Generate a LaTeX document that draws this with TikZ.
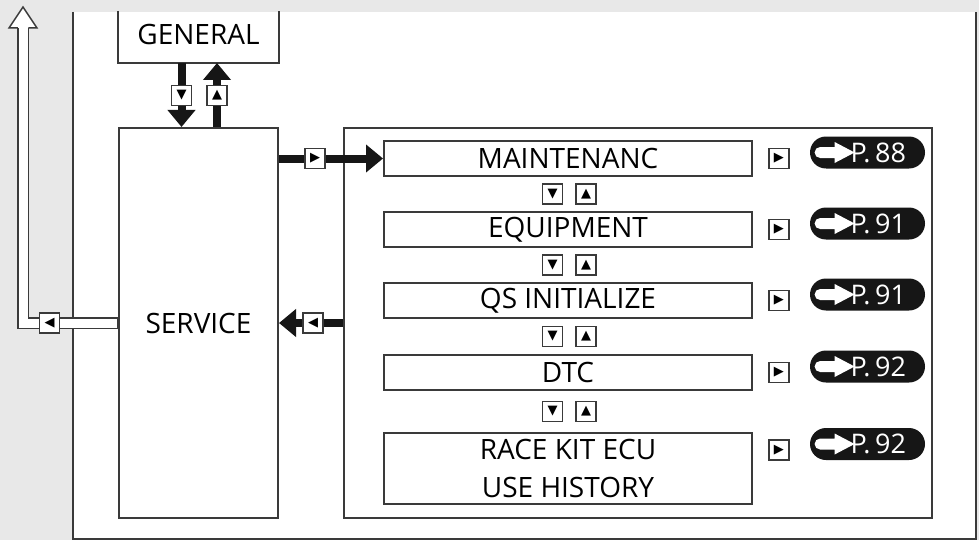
\documentclass[tikz,border=0pt]{standalone}
\usepackage{fontspec}
\setmainfont{Open Sans}
\newfontfamily\symfont{DejaVu Sans}
\usepackage{tikz}
\usetikzlibrary{positioning,arrows.meta,calc}
\definecolor{pagegrey}{HTML}{E8E8E8}
\definecolor{framegrey}{HTML}{3A3A3A}
\definecolor{inkblack}{HTML}{161616}
\tikzset{
    menubox/.style={
        draw=framegrey, fill=white, line width=1pt,
        minimum width=184pt, minimum height=17.5pt,
        inner sep=0pt, font=\fontsize{14}{19}\selectfont, align=center
    },
    bigbox/.style={
        draw=framegrey, fill=white, line width=1pt,
        minimum width=79.5pt, inner sep=0pt,
        font=\fontsize{14}{19}\selectfont
    },
    keyicon/.style={
        draw=framegrey, fill=white, line width=0.8pt,
        minimum size=10pt, inner sep=0pt,
        font=\symfont\fontsize{6.5}{6.5}\selectfont
    },
    pagebadge/.style={
        fill=inkblack, rounded corners=8pt, text=white,
        minimum height=16pt, text width=38.5pt, inner xsep=9.5pt, inner ysep=0pt,
        align=right, font=\fontsize{13.5}{13.5}\selectfont,
        text height=9.6pt, text depth=0pt
    },
    keyarrow/.style={-{Triangle[length=8.5pt,width=13.5pt]}, line width=4pt, color=inkblack},
}

\begin{document}
\begin{tikzpicture}[x=0.5pt, y=-0.5pt]
    % page and panel
    \fill[pagegrey] (0,0) rectangle (979,540);
    \fill[white] (73,12) rectangle (976,539);
    \draw[framegrey, line width=0.8pt] (73,12) -- (73,539) -- (976,539) -- (976,12);

    % main menu
    \node[bigbox, draw=none, fill=none, minimum height=25pt, text height=9.6pt, text depth=1.6pt] (general) at (198.5,37) {GENERAL};
    \draw[framegrey, line width=1pt] (general.north west) -- (general.south west) -- (general.south east) -- (general.north east);
    \node[bigbox, minimum height=195pt] (service) at (198.5,323) {SERVICE};
    \node[draw=framegrey, fill=white, line width=1pt, minimum width=294pt, minimum height=195pt] (submenu) at (638,323) {};

    % service menu items
    \node[menubox] (m1) at (568,158.5) {MAINTENANC};
    \node[menubox, below=17pt of m1] (m2) {EQUIPMENT};
    \node[menubox, below=17pt of m2] (m3) {QS INITIALIZE};
    \node[menubox, below=17.5pt of m3] (m4) {DTC};
    \node[menubox, below=20.5pt of m4, minimum height=35.5pt] (m5) {RACE KIT ECU\\USE HISTORY};

    % arrows
    \draw[keyarrow] ([xshift=-8.5pt]general.south) -- ([xshift=-8.5pt]service.north);
    \draw[keyarrow] ([xshift=9.25pt]service.north) -- ([xshift=9.25pt]general.south);
    \draw[keyarrow] (m1.west -| service.east) -- (m1.west);
    \draw[keyarrow] (submenu.west) -- (service.east);

    % way out (hollow arrow)
    \coordinate (exit) at (23,7);
    \draw[framegrey, line width=6pt] (service.west) -| ($(exit)+(0,21)$);
    \draw[white, line width=4.5pt, shorten <=0.5pt] (service.west) -| ($(exit)+(0,21)$);
    \fill[white] ($(exit)+(-14,21)$) -- (exit) -- ($(exit)+(14,21)$) -- cycle;
    \draw[framegrey, line width=0.75pt] ($(exit)+(-5.25,21)$) -- ($(exit)+(-14,21)$) -- (exit) -- ($(exit)+(14,21)$) -- ($(exit)+(5.25,21)$);

    % keys
    \node[keyicon] (gdown) at (181.5,95.5) {▼};
    \node[keyicon] (gup) at (217,95.5) {▲};
    \node[keyicon] (tosub) at (315,158.5) {▶};
    \node[keyicon] (fromsub) at (313,323) {◀};
    \node[keyicon] (toexit) at (49.5,323) {◀};
    \foreach \a/\b in {m1/m2,m2/m3,m3/m4,m4/m5} {
        \node[keyicon] (dn\a) at ($(\a.south)!0.5!(\b.north)+(-15.5,0)$) {▼};
        \node[keyicon] (up\a) at ($(\a.south)!0.5!(\b.north)+(18,0)$) {▲};
    }

    % page references
    \foreach \m/\pg/\dy in {m1/88/0pt, m2/91/0pt, m3/91/0pt, m4/92/0pt, m5/92/9.25pt} {
        \node[keyicon, anchor=west] (go\m) at ([xshift=7.5pt, yshift=\dy]\m.east) {▶};
        \node[pagebadge, anchor=west] (page\m) at ([xshift=10pt, yshift=3pt]go\m.east) {P.\,\pg};
        \begin{scope}[shift={(page\m.west)}]
            \fill[white] (10.5,-5.5) -- (25,-5.5) -- (25,-10.5) -- (45,0) -- (25,10.5) -- (25,5.5) -- (10.5,5.5) arc(90:270:5.5) -- cycle;
        \end{scope}
    }
\end{tikzpicture}
\end{document}
